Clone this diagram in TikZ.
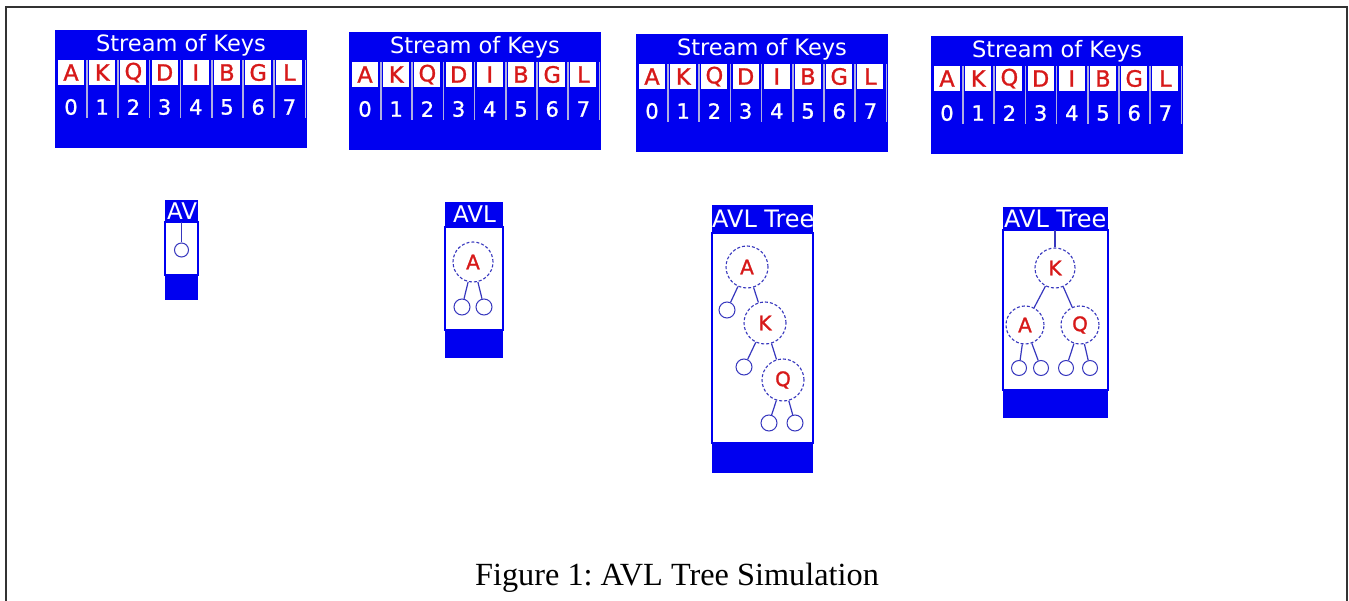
\documentclass[tikz,border=0pt]{standalone}
\usepackage{fontspec}
\setmainfont{Liberation Serif}
\newfontfamily\dv{DejaVu Sans}
\newfontfamily\dvb[FakeBold=1.2]{DejaVu Sans}
\definecolor{kblue}{RGB}{0,0,240}
\definecolor{kred}{RGB}{215,25,25}
\definecolor{sepc}{RGB}{175,175,225}
\definecolor{tblue}{RGB}{55,55,190}
\frenchspacing
\begin{document}
\begin{tikzpicture}[x=1pt,y=-1pt,
  streamtitle/.style={text=white,font=\dv\fontsize{22.5}{22.5}\selectfont,inner sep=0pt},
  keycell/.style={fill=white,minimum width=26pt,minimum height=25pt,inner sep=0pt,text=kred,font=\dvb\fontsize{22.5}{22.5}\selectfont},
  digit/.style={text=white,inner sep=0pt,font=\dvb\fontsize{21}{21}\selectfont},
  treetitle/.style={text=white,inner sep=0pt,font=\dv\fontsize{23}{23}\selectfont},
  big/.style={circle,draw=tblue,densely dashed,line width=1.1pt,minimum size=40pt,inner sep=0pt,text=kred,font=\dvb\fontsize{20}{20}\selectfont},
  leaf/.style={circle,draw=tblue,line width=1pt,minimum size=15pt,inner sep=0pt},
  link/.style={draw=tblue,line width=1.2pt},
  frame/.style={line width=2pt,draw=black!80}
]
\useasboundingbox (0,0) rectangle (1349,601);
\fill[white] (0,0) rectangle (1349,601);
\draw[frame] (6,601) -- (6,7) -- (1347,7) -- (1347,601);

% stream of keys boxes
\foreach \bx/\by/\id in {55/30/a,349/32/b,636/34/c,931/36/d}{
  \fill[kblue] (\bx,\by) rectangle ++(252,118);
  \node[streamtitle] (title\id) at (\bx+126,\by+15) {Stream of Keys};
  \foreach \k [count=\i from 0] in {A,K,Q,D,I,B,G,L}{
    \draw[sepc,line width=1.6pt] (\bx+32+31.2*\i,\by+30) -- ++(0,58);
    \node[keycell] (k\id\i) at (\bx+16+31.2*\i,\by+42.5) {\k};
    \node[digit] (d\id\i) at (\bx+16+31.2*\i,\by+77) {\i};
  }
}

% tree box 1
\fill[kblue] (165,200) rectangle (198,222);
\begin{scope}
  \clip (165,200) rectangle (198,222);
  \node[treetitle,anchor=west] (t1title) at (167,211.5) {AVL};
\end{scope}
\draw[kblue,line width=1.2pt] (165,222) rectangle (198,275);
\fill[kblue] (165,275) rectangle (198,300);
\coordinate (t1top) at (181.5,222);
\node[leaf,minimum size=14pt] (t1leaf) at (181.5,250) {};
\draw[link] (t1top) -- (t1leaf);

% tree box 2
\fill[kblue] (445,202) rectangle (503,227);
\node[treetitle] (t2title) at (474.5,214.5) {AVL};
\draw[kblue,line width=1.2pt] (445,227) rectangle (503,330);
\fill[kblue] (445,330) rectangle (503,358);
\node[big] (t2A) at (473,262) {A};
\node[leaf,minimum size=16pt] (t2l1) at (462,307) {};
\node[leaf,minimum size=16pt] (t2l2) at (484,307) {};
\draw[link] (t2A) -- (t2l1);
\draw[link] (t2A) -- (t2l2);

% tree box 3
\fill[kblue] (712,205) rectangle (813,233);
\begin{scope}
  \clip (712,205) rectangle (813,233);
  \node[treetitle,anchor=west,font=\dv\fontsize{24}{24}\selectfont] (t3title) at (712,219) {AVL Tree};
\end{scope}
\draw[kblue,line width=1.2pt] (712,233) rectangle (813,443);
\fill[kblue] (712,443) rectangle (813,473);
\node[big,minimum size=42pt] (t3A) at (747,267) {A};
\node[leaf,minimum size=16pt] (t3lA) at (727,310) {};
\node[big,minimum size=42pt] (t3K) at (765,323) {K};
\node[leaf,minimum size=16pt] (t3lK) at (744,367) {};
\node[big,minimum size=42pt] (t3Q) at (783,380) {Q};
\node[leaf,minimum size=16pt] (t3lQ1) at (769,423) {};
\node[leaf,minimum size=16pt] (t3lQ2) at (795,423) {};
\draw[link] (t3A) -- (t3lA);
\draw[link] (t3A) -- (t3K);
\draw[link] (t3K) -- (t3lK);
\draw[link] (t3K) -- (t3Q);
\draw[link] (t3Q) -- (t3lQ1);
\draw[link] (t3Q) -- (t3lQ2);

% tree box 4
\fill[kblue] (1003,207) rectangle (1108,230);
\begin{scope}
  \clip (1003,207) rectangle (1108,230);
  \node[treetitle,anchor=west,font=\dv\fontsize{24}{24}\selectfont] (t4title) at (1004,218.5) {AVL Tree};
\end{scope}
\draw[kblue,line width=1.2pt] (1003,230) rectangle (1108,390);
\fill[kblue] (1003,390) rectangle (1108,418);
\coordinate (t4top) at (1055,230);
\node[big] (t4K) at (1055,268) {K};
\node[big,minimum size=38pt] (t4A) at (1025,325) {A};
\node[big,minimum size=38pt] (t4Q) at (1080,325) {Q};
\node[leaf] (t4l1) at (1019,368) {};
\node[leaf] (t4l2) at (1041,368) {};
\node[leaf] (t4l3) at (1066,368) {};
\node[leaf] (t4l4) at (1090,368) {};
\draw[link] (t4top) -- (t4K);
\draw[link] (t4K) -- (t4A);
\draw[link] (t4K) -- (t4Q);
\draw[link] (t4A) -- (t4l1);
\draw[link] (t4A) -- (t4l2);
\draw[link] (t4Q) -- (t4l3);
\draw[link] (t4Q) -- (t4l4);

% caption
\node[anchor=base,inner sep=0pt,font=\fontsize{32.3}{32.3}\selectfont] (caption) at (677,585) {Figure 1: AVL Tree Simulation};
\end{tikzpicture}
\end{document}
